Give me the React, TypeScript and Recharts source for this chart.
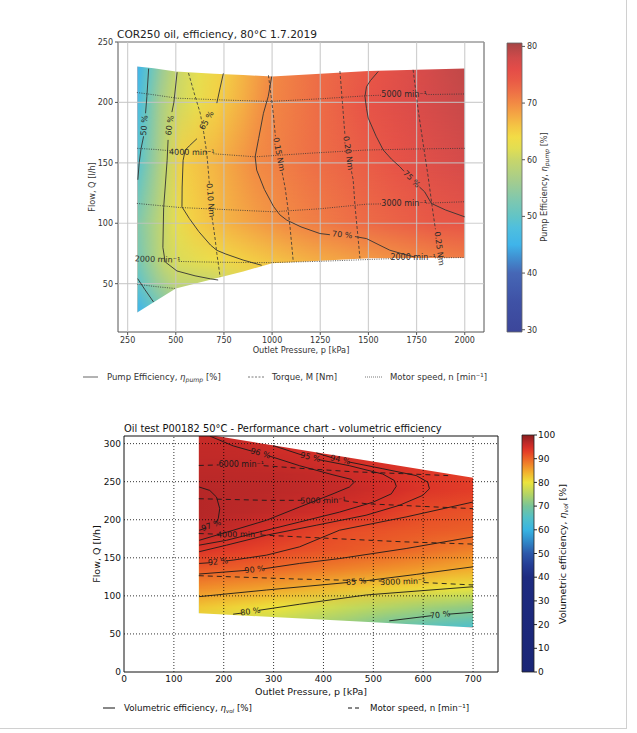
import React from 'react';
import { ComposedChart, Area, Line, Scatter, XAxis, YAxis, ReferenceLine, ReferenceArea } from 'recharts';

const FONT = '"DejaVu Sans", Verdana, sans-serif';

// ---------------- TOP CHART DATA ----------------
const topXTicks = [250, 500, 750, 1000, 1250, 1500, 1750, 2000];
const topYTicks = [50, 100, 150, 200, 250];
const topCbTicks = [30, 40, 50, 60, 70, 80];
const topCbRange = [29.6, 80.6];

const topRegionX = [300, 385, 500, 700, 850, 1000, 1500, 2000];
const topRegionLow = [26.2, 34.7, 46, 54, 60, 67, 71, 71.5];
const topRegionHigh = [229.8, 228.3, 225.6, 223.8, 222.6, 221.5, 226, 228];

// efficiency field rows (flow level, pressures, efficiency values)
const topFieldY = [30, 50, 70, 100, 150, 200, 230];
const topFieldP = [
  [300, 385, 500, 2000],
  [300, 400, 500, 680, 1000, 2000],
  [300, 440, 520, 700, 850, 1200, 1741, 2000],
  [300, 440, 500, 592, 800, 1076, 1400, 1827, 2000],
  [300, 315, 400, 458, 532, 700, 914, 1200, 1640, 2000],
  [300, 340, 420, 488, 600, 713, 850, 970, 1250, 1486, 1750, 2000],
  [300, 360, 430, 510, 620, 755, 870, 1000, 1250, 1560, 1800, 2000],
];
const topFieldEff = [
  [45.5, 50, 56, 70],
  [49.5, 55, 59, 59.5, 64, 70],
  [52, 60, 61.5, 63.5, 65, 67.5, 70, 71],
  [53, 60, 62.5, 65, 67.5, 70, 72, 74.3, 74.7],
  [49, 50, 56, 60, 65, 67, 70, 72, 75, 77.5],
  [47, 50, 56.5, 60, 62.5, 65, 67.5, 70, 72.5, 75, 77, 78.5],
  [45, 50, 55.5, 60, 62.5, 65, 67.5, 70, 72.5, 75, 77.5, 79],
];

const topCmapV = [29.6, 35, 40, 43, 45, 48, 50, 53, 56, 60, 62, 64, 66, 68, 70, 72, 74, 76, 78, 80, 80.6];
const topCmapC = ['#3c469a', '#3f52a6', '#4667b6', '#4094d4', '#3fb4ea', '#4fbfde', '#62c4c6', '#80c8ae', '#a2cc90', '#c8d66a', '#e2de52', '#f2dc46', '#f4c444', '#f4a644', '#f28a44', '#ee7046', '#e95a46', '#e44c48', '#d04a4a', '#b04646', '#a04444'];

type Pair = [number, number] | null;

const topEff50a: Pair[] = [[359, 228], [350, 205], [343, 191], null, [333, 172], [320, 162], [310, 150], [303, 136]];
const topEff50b: Pair[] = [[301.8, 54.2], [340, 45], [384.7, 34.8]];
const topEff60: Pair[] = [[507, 225], [490, 200], [480, 192], null, [460, 169], [455, 152], [445, 130], [437, 113], [433, 80], [445, 68], [506, 60.5], [600, 56.5], [680, 54], [720, 53]];
const topEff65: Pair[] = [[747, 224], [730, 212], [713, 199.4], null, [610, 170], [570, 164], [549, 160.6], [538, 152], [533, 130], [532, 113.6], [570, 104], [620, 93], [680, 82], [713, 77.6], [760, 74.5], [850, 69.5], [946, 65.2]];
const topEff70: Pair[] = [[998, 221.5], [980, 205], [955, 191], [930, 170], [912, 155], [920, 144], [960, 128], [1007, 114], [1040, 107], [1076, 102.6], [1150, 97], [1248, 91.5], [1300, 90.5], null, [1430, 89], [1490, 87.3], [1550, 82.5], [1611, 77.7], [1680, 74.5], [1741, 72]];
const topEff75: Pair[] = [[1551, 225.6], [1510, 218], [1490, 213], [1482, 205], [1490, 195], [1499, 187], [1540, 172], [1577, 160.6], [1620, 153], [1663, 146.8], [1685, 143], null, [1765, 130], [1792, 126], [1827, 116.4], [1900, 111], [2000, 105.3]];

const topTq10: Pair[] = [[566, 224.3], [595, 208], [627, 191], [645, 175], [661, 158], [670, 141.3], [674, 133], null, [688, 105], [695.7, 97], [705, 86], [713, 75], [722, 65], [730, 55.5]];
const topTq15: Pair[] = [[981, 222.5], [995, 205], [1006.6, 190], [1017, 172], null, [1052, 142], [1067, 130], [1080, 115], [1093, 97], [1100, 85], [1110, 68]];
const topTq20: Pair[] = [[1352, 226], [1365, 200], [1378, 173], null, [1412, 143], [1421, 135.8], [1430, 115], [1445, 90], [1456, 71]];
const topTq25: Pair[] = [[1732, 227], [1758, 194], [1785, 165], [1810, 138.5], [1836, 108], [1848, 95]];

const topSp5000: Pair[] = [[298, 208.2], [400, 206], [505.7, 203.5], [750, 202], [989, 200.8], [1250, 203], [1490, 205.5], [1570, 206], null, [1800, 206.5], [2000, 207]];
const topSp4000: Pair[] = [[300, 162], [400, 161], [470, 160], null, [695, 157.5], [912, 155], [1200, 158], [1490, 160.6], [1750, 161.5], [2000, 162]];
const topSp3000: Pair[] = [[298, 116.4], [523, 113], [1006.6, 109.5], [1250, 112], [1490, 115.8], [1570, 116], null, [1800, 116.6], [2000, 117.8]];
const topSp2000: Pair[] = [[515, 68.4], [627, 68], [800, 67.6], [989, 67.4], [1250, 68.5], [1500, 70], [1620, 70.7], null, [1845, 71.4], [2000, 71.6]];
const topSp1000: Pair[] = [[300, 49.5], [400, 47.5], [497, 46]];

const topEffLabels = [
  { x: 337, y: 181, t: '50 %', a: -85 },
  { x: 469, y: 181, t: '60 %', a: -82 },
  { x: 661, y: 185, t: '65 %', a: -60 },
  { x: 1364, y: 90.5, t: '70 %', a: 6 },
  { x: 1724, y: 136.5, t: '75 %', a: 45 },
];
const topTqLabels = [
  { x: 680, y: 119, t: '0.10 Nm', a: 85 },
  { x: 1035, y: 157, t: '0.15 Nm', a: 79 },
  { x: 1395, y: 158, t: '0.20 Nm', a: 82 },
  { x: 1868, y: 79, t: '0.25 Nm', a: 82 },
];
const topSpLabels = [
  { x: 1685, y: 206.3, t: '5000 min⁻¹', a: 0 },
  { x: 583, y: 158.6, t: '4000 min⁻¹', a: 1 },
  { x: 1685, y: 116, t: '3000 min⁻¹', a: 0 },
  { x: 405, y: 70, t: '2000 min⁻¹', a: 2 },
  { x: 1732, y: 71.3, t: '2000 min⁻¹', a: 0 },
];

// ---------------- BOTTOM CHART DATA ----------------
const botXTicks = [0, 100, 200, 300, 400, 500, 600, 700];
const botYTicks = [0, 50, 100, 150, 200, 250, 300];
const botCbTicks = [0, 10, 20, 30, 40, 50, 60, 70, 80, 90, 100];
const botCbRange = [0, 100];

const botRegionX = [150, 200, 700];
const botRegionLow = [77.2, 75.5, 58.4];
const botRegionHigh = [313.5, 308.3, 255];

const botFieldY = [60, 85, 110, 135, 160, 185, 210, 240, 260, 290, 310];
const botFieldP = [
  [150, 300, 450, 532, 632, 700],
  [150, 310, 450, 600, 700],
  [150, 322, 462, 600, 660, 700],
  [150, 265, 400, 586, 665, 700],
  [150, 163, 240, 325, 440, 545, 620, 700],
  [150, 219, 272, 324, 428, 566, 700],
  [150, 190, 250, 325, 432, 506, 600, 700],
  [150, 185, 300, 452, 546, 612, 700],
  [150, 300, 419, 452, 519, 586, 700],
  [150, 219, 272, 300, 372, 432, 500, 700],
  [150, 200, 250, 400, 700],
];
const botFieldEff = [
  [79, 75.5, 72, 69, 66, 65],
  [82.5, 80, 76.5, 73.6, 72],
  [86.9, 85, 82.7, 81, 80, 79.5],
  [90.9, 90, 88.3, 86, 85, 84.5],
  [94.2, 94, 93, 92, 91, 90, 89, 87.8],
  [96.9, 96, 95, 94, 92, 91, 90.3],
  [97.2, 97, 96.7, 96, 95, 94, 92, 91.4],
  [97.2, 97, 96.8, 96, 95, 94, 93.2],
  [96.8, 96.6, 96, 95.6, 95, 94, 93],
  [96.3, 96.2, 96, 95.5, 95, 94.3, 94, 93],
  [95.8, 96, 95.5, 95, 93],
];

const botCmapV = [0, 40, 45, 50, 55, 60, 65, 70, 75, 80, 84, 87, 90, 93, 95, 97, 100];
const botCmapC = ['#1b2676', '#1e2b80', '#243c94', '#2c58aa', '#3088c8', '#38b4e2', '#52c0c8', '#78c498', '#b4d464', '#ece43c', '#f2b42e', '#f08c2a', '#ec6428', '#e43e28', '#d42e28', '#b82828', '#8a1e1e'];

const botEff96: Pair[] = [[172, 310], [219, 297], [257, 290], null, [290, 284], [352, 271], [419, 259], [456, 253], [462, 249.5], [452, 243], [419, 234], [352, 216.7], [285.6, 199.3], [219, 186.2], [150.8, 173]];
const botEff95: Pair[] = [[299, 297.4], [357, 285], null, [390, 279], [452, 271], [519, 260], [542, 251.6], [546, 244], [536, 234], [499, 223], [432, 210], [352, 197], [272, 184], [205.5, 173], [150.8, 166.6]];
const botEff94: Pair[] = [[385.6, 287.8], [417, 281.5], null, [450, 276], [519, 267], [586, 258], [609, 249.5], [612.5, 240.7], [599, 232], [552.4, 219], [485.7, 206], [385.6, 192.8], [285.6, 179.7], [205.5, 166.6], [150.8, 158]];
const botEff97: Pair[] = [[150.8, 243], [172, 238.5], [185.5, 229.8], [192, 214.6], [189, 201.5], [184, 196], null, [165, 189], [150.8, 186.2]];
const botEff92: Pair[] = [[150.8, 142.6], [172, 143.5], null, [205, 146], [219, 147], [285.6, 153.5], [352, 164.4], [432, 186.2], [565.8, 203.7], [700, 223.3]];
const botEff90: Pair[] = [[150.8, 128.7], [245, 133.5], null, [279, 135.5], [352, 142.6], [432, 149], [565.8, 162.2], [700, 177.5]];
const botEff85: Pair[] = [[150.8, 99], [285.6, 107.7], [449, 117.6], null, [482, 119.6], [586, 128.2], [700, 138.2]];
const botEff80: Pair[] = [[218.8, 75.9], [237, 77.5], null, [270, 81], [352, 89], [485.7, 101.2], [700, 112]];
const botEff70: Pair[] = [[532, 67.2], [617, 74], null, [651, 76], [700, 78.5]];

const botSp6000: Pair[] = [[150, 271.3], [190, 272], null, [280, 271], [366, 267], [460, 263], [560, 260.5], [650, 258]];
const botSp5000: Pair[] = [[150, 227.6], [286, 225.5], [357, 225.5], null, [441, 225], [486, 221], [600, 217.5], [700, 214.6]];
const botSp4000: Pair[] = [[150, 181.9], [190, 181], null, [274, 180], [419, 175.3], [560, 171], [700, 168]];
const botSp3000: Pair[] = [[150, 126.5], [352, 122], [517, 119.5], null, [601, 117.5], [700, 114.3]];

const botEffLabels = [
  { x: 273.5, y: 287.2, t: '96 %', a: 16 },
  { x: 373.6, y: 282, t: '95 %', a: 14 },
  { x: 433.7, y: 278.7, t: '94 %', a: 13 },
  { x: 175, y: 192.5, t: '97 %', a: -20 },
  { x: 188.5, y: 144.8, t: '92 %', a: -6 },
  { x: 262, y: 134.5, t: '90 %', a: -7 },
  { x: 465.5, y: 118.6, t: '85 %', a: -5 },
  { x: 253.5, y: 79.3, t: '80 %', a: -8 },
  { x: 634, y: 75, t: '70 %', a: -6 },
];
const botSpLabels = [
  { x: 235, y: 272, t: '6000 min⁻¹', a: 0 },
  { x: 399, y: 225, t: '5000 min⁻¹', a: -1 },
  { x: 232, y: 180.5, t: '4000 min⁻¹', a: -1 },
  { x: 559, y: 118.5, t: '3000 min⁻¹', a: -2 },
];

// ---------------- helpers ----------------
const toPts = (arr: Pair[]) => {
  const out: { x: number; y: number | null }[] = [];
  let lastX = 0;
  for (const p of arr) {
    if (p) { out.push({ x: p[0], y: p[1] }); lastX = p[0]; }
    else out.push({ x: lastX, y: null });
  }
  return out;
};
const regionData = (xs: number[], lo: number[], hi: number[]) => xs.map((x, i) => ({ x, r: [lo[i], hi[i]] }));

const hex = (h: string) => [parseInt(h.slice(1, 3), 16), parseInt(h.slice(3, 5), 16), parseInt(h.slice(5, 7), 16)];
function cmap(vals: number[], cols: string[], v: number) {
  if (v <= vals[0]) return cols[0];
  if (v >= vals[vals.length - 1]) return cols[cols.length - 1];
  let i = 0;
  while (v > vals[i + 1]) i++;
  const t = (v - vals[i]) / (vals[i + 1] - vals[i]);
  const a = hex(cols[i]); const b = hex(cols[i + 1]);
  const c = a.map((ai, k) => Math.round(ai + (b[k] - ai) * t));
  return `rgb(${c[0]},${c[1]},${c[2]})`;
}
const clamp01 = (v: number) => Math.max(0, Math.min(1, v));

function FieldDefs(props: { id: string; xs: number[]; lo: number[]; hi: number[]; rowY: number[]; rowP: number[][]; rowE: number[][]; cv: number[]; cc: string[] }) {
  const { id, xs, lo, hi, rowY, rowP, rowE, cv, cc } = props;
  const x0 = Math.min(...xs), x1 = Math.max(...xs);
  const y0 = Math.min(...lo), y1 = Math.max(...hi);
  const ox = (x: number) => clamp01((x - x0) / (x1 - x0));
  const oy = (y: number) => clamp01((y1 - y) / (y1 - y0));
  return (
    <>
      {rowY.map((_, i) => (
        <linearGradient key={'g' + i} id={`${id}-g${i}`} x1="0" y1="0" x2="1" y2="0">
          {rowP[i].map((p, j) => <stop key={j} offset={ox(p)} stopColor={cmap(cv, cc, rowE[i][j])} />)}
        </linearGradient>
      ))}
      {rowY.map((y, i) => i === 0 ? null : (
        <linearGradient key={'m' + i} id={`${id}-m${i}`} x1="0" y1="0" x2="0" y2="1">
          <stop offset={0} stopColor="#fff" stopOpacity={1} />
          <stop offset={oy(y)} stopColor="#fff" stopOpacity={1} />
          <stop offset={oy(rowY[i - 1])} stopColor="#fff" stopOpacity={0} />
          <stop offset={1} stopColor="#fff" stopOpacity={0} />
        </linearGradient>
      ))}
      {rowY.map((_, i) => i === 0 ? null : (
        <mask key={'k' + i} id={`${id}-k${i}`} maskUnits="objectBoundingBox" maskContentUnits="objectBoundingBox" x="0" y="0" width="1" height="1" style={{ maskType: 'alpha' } as any}>
          <rect x="0" y="0" width="1" height="1" fill={`url(#${id}-m${i})`} />
        </mask>
      ))}
      <pattern id={id} patternUnits="objectBoundingBox" patternContentUnits="objectBoundingBox" x="0" y="0" width="1" height="1">
        {rowY.map((_, i) => (
          <rect key={i} x="0" y="0" width="1" height="1" fill={`url(#${id}-g${i})`} mask={i ? `url(#${id}-k${i})` : undefined} />
        ))}
      </pattern>
    </>
  );
}

function CbGradient({ id, vals, cols, range }: { id: string; vals: number[]; cols: string[]; range: number[] }) {
  const [lo, hi] = range;
  const stops = vals.map((v, i) => ({ o: clamp01((hi - v) / (hi - lo)), c: cols[i] })).reverse();
  return (
    <linearGradient id={id} x1="0" y1="0" x2="0" y2="1">
      {stops.map((s, i) => <stop key={i} offset={s.o} stopColor={s.c} />)}
    </linearGradient>
  );
}

const makeLabelShape = (size: number, color: string) => (props: any) => {
  const { cx, cy, payload } = props;
  if (cx == null || cy == null) return <g />;
  return (
    <text x={cx} y={cy} transform={`rotate(${payload.a} ${cx} ${cy})`} textAnchor="middle" dominantBaseline="central" fontSize={size} fill={color} fontFamily={FONT}>
      {payload.t}
    </text>
  );
};

const topLabelShape = makeLabelShape(8, '#2a2a2a');
const botLabelShape = makeLabelShape(8, '#1a1a1a');

const topEffLines = [topEff50a, topEff50b, topEff60, topEff65, topEff70, topEff75];
const topTqLines = [topTq10, topTq15, topTq20, topTq25];
const topSpLines = [topSp5000, topSp4000, topSp3000, topSp2000, topSp1000];
const botEffLines = [botEff96, botEff95, botEff94, botEff97, botEff92, botEff90, botEff85, botEff80, botEff70];
const botSpLines = [botSp6000, botSp5000, botSp4000, botSp3000];

const topArea = regionData(topRegionX, topRegionLow, topRegionHigh);
const botArea = regionData(botRegionX, botRegionLow, botRegionHigh);

export default function App() {
  const tickTop = { fontSize: 8, fill: '#333', fontFamily: FONT };
  const tickBot = { fontSize: 9, fill: '#111', fontFamily: FONT };
  return (
    <div style={{ position: 'absolute', left: 0, top: 0, width: 637, height: 733, background: '#fff', fontFamily: FONT, overflow: 'hidden' }}>
      <svg width={0} height={0} style={{ position: 'absolute' }}>
        <defs>
          <FieldDefs id="topField" xs={topRegionX} lo={topRegionLow} hi={topRegionHigh} rowY={topFieldY} rowP={topFieldP} rowE={topFieldEff} cv={topCmapV} cc={topCmapC} />
          <FieldDefs id="botField" xs={botRegionX} lo={botRegionLow} hi={botRegionHigh} rowY={botFieldY} rowP={botFieldP} rowE={botFieldEff} cv={botCmapV} cc={botCmapC} />
          <CbGradient id="topCb" vals={topCmapV} cols={topCmapC} range={topCbRange} />
          <CbGradient id="botCb" vals={botCmapV} cols={botCmapC} range={botCbRange} />
        </defs>
      </svg>

      {/* TOP MAIN CHART */}
      <div style={{ position: 'absolute', left: 0, top: 0 }}>
        <ComposedChart width={637} height={370} margin={{ top: 42, right: 153, bottom: 18, left: 78 }}>
          <XAxis type="number" dataKey="x" domain={[200, 2100]} ticks={topXTicks} interval={0} allowDataOverflow axisLine={false} tickLine={{ stroke: '#555' }} tickSize={3} tickMargin={2} height={20} tick={tickTop} />
          <YAxis type="number" domain={[10, 250]} ticks={topYTicks} interval={0} allowDataOverflow axisLine={false} tickLine={{ stroke: '#555' }} tickSize={3} tickMargin={2} width={40} tick={tickTop} />
          <Area data={topArea} dataKey="r" type="linear" stroke="none" fill="url(#topField)" fillOpacity={1} dot={false} activeDot={false} isAnimationActive={false} />
          {topXTicks.map(v => <ReferenceLine key={'gx' + v} x={v} stroke="#c4c4c4" strokeOpacity={0.8} strokeWidth={1.2} />)}
          {topYTicks.map(v => <ReferenceLine key={'gy' + v} y={v} stroke="#c4c4c4" strokeOpacity={0.8} strokeWidth={1.2} />)}
          {topEffLines.map((l, i) => <Line key={'te' + i} data={toPts(l)} dataKey="y" type="linear" stroke="#333" strokeWidth={0.9} dot={false} activeDot={false} isAnimationActive={false} />)}
          {topTqLines.map((l, i) => <Line key={'tt' + i} data={toPts(l)} dataKey="y" type="linear" stroke="#333" strokeWidth={0.8} strokeDasharray="3 2" dot={false} activeDot={false} isAnimationActive={false} />)}
          {topSpLines.map((l, i) => <Line key={'ts' + i} data={toPts(l)} dataKey="y" type="linear" stroke="#333" strokeWidth={0.8} strokeDasharray="1 1.3" dot={false} activeDot={false} isAnimationActive={false} />)}
          <Scatter data={[...topEffLabels, ...topTqLabels, ...topSpLabels]} dataKey="y" shape={topLabelShape} isAnimationActive={false} />
          <ReferenceArea x1={200} x2={2100} y1={10} y2={250} fill="none" stroke="#555" strokeWidth={1} ifOverflow="visible" />
        </ComposedChart>
      </div>

      {/* TOP COLORBAR */}
      <div style={{ position: 'absolute', left: 500, top: 0 }}>
        <ComposedChart width={137} height={370} margin={{ top: 43, right: 85, bottom: 38, left: 7 }}>
          <XAxis type="number" dataKey="x" domain={[0, 1]} hide />
          <YAxis type="number" orientation="right" domain={topCbRange} ticks={topCbTicks} interval={0} allowDataOverflow axisLine={false} tickLine={{ stroke: '#555' }} tickSize={3} tickMargin={2} width={30} tick={tickTop} />
          <Area data={[{ x: 0, r: topCbRange }, { x: 1, r: topCbRange }]} dataKey="r" type="linear" stroke="none" fill="url(#topCb)" fillOpacity={1} dot={false} activeDot={false} isAnimationActive={false} />
          <ReferenceArea x1={0} x2={1} y1={topCbRange[0]} y2={topCbRange[1]} fill="none" stroke="#666" strokeWidth={0.8} ifOverflow="visible" />
        </ComposedChart>
      </div>

      {/* BOTTOM MAIN CHART */}
      <div style={{ position: 'absolute', left: 0, top: 400 }}>
        <ComposedChart width={637} height={300} margin={{ top: 36, right: 139, bottom: 8, left: 84 }}>
          <XAxis type="number" dataKey="x" domain={[0, 750]} ticks={botXTicks} interval={0} allowDataOverflow axisLine={false} tickLine={false} tickSize={3} tickMargin={1} height={20} tick={tickBot} />
          <YAxis type="number" domain={[0, 310]} ticks={botYTicks} interval={0} allowDataOverflow axisLine={false} tickLine={false} tickSize={2} tickMargin={1} width={40} tick={tickBot} />
          <Area data={botArea} dataKey="r" type="linear" stroke="none" fill="url(#botField)" fillOpacity={1} dot={false} activeDot={false} isAnimationActive={false} />
          {botXTicks.filter(v => v > 0).map(v => <ReferenceLine key={'bx' + v} x={v} stroke="#000" strokeWidth={0.8} strokeDasharray="1 2" />)}
          {botYTicks.filter(v => v > 0).map(v => <ReferenceLine key={'by' + v} y={v} stroke="#000" strokeWidth={0.8} strokeDasharray="1 2" />)}
          {botEffLines.map((l, i) => <Line key={'be' + i} data={toPts(l)} dataKey="y" type="linear" stroke="#1a1a1a" strokeWidth={0.9} dot={false} activeDot={false} isAnimationActive={false} />)}
          {botSpLines.map((l, i) => <Line key={'bs' + i} data={toPts(l)} dataKey="y" type="linear" stroke="#1a1a1a" strokeWidth={0.9} strokeDasharray="5 4" dot={false} activeDot={false} isAnimationActive={false} />)}
          <Scatter data={[...botEffLabels, ...botSpLabels]} dataKey="y" shape={botLabelShape} isAnimationActive={false} />
          <ReferenceArea x1={0} x2={750} y1={0} y2={310} fill="none" stroke="#111" strokeWidth={1} ifOverflow="visible" />
        </ComposedChart>
      </div>

      {/* BOTTOM COLORBAR */}
      <div style={{ position: 'absolute', left: 500, top: 400 }}>
        <ComposedChart width={137} height={300} margin={{ top: 35, right: 73, bottom: 28, left: 22 }}>
          <XAxis type="number" dataKey="x" domain={[0, 1]} hide />
          <YAxis type="number" orientation="right" domain={botCbRange} ticks={botCbTicks} interval={0} allowDataOverflow axisLine={false} tickLine={{ stroke: '#222' }} tickSize={3} tickMargin={1} width={30} tick={tickBot} />
          <Area data={[{ x: 0, r: botCbRange }, { x: 1, r: botCbRange }]} dataKey="r" type="linear" stroke="none" fill="url(#botCb)" fillOpacity={1} dot={false} activeDot={false} isAnimationActive={false} />
          <ReferenceArea x1={0} x2={1} y1={botCbRange[0]} y2={botCbRange[1]} fill="none" stroke="#222" strokeWidth={0.8} ifOverflow="visible" />
        </ComposedChart>
      </div>

      {/* TEXT OVERLAY */}
      <svg width={637} height={733} style={{ position: 'absolute', left: 0, top: 0, pointerEvents: 'none' }} fontFamily={FONT}>
        <line x1={626.5} x2={626.5} y1={0} y2={729} stroke="#d0d0d0" strokeWidth={1} />
        <line x1={0} x2={627} y1={728.5} y2={728.5} stroke="#d0d0d0" strokeWidth={1} />

        <text x={117} y={38} fontSize={10.6} fill="#222">COR250 oil, efficiency, 80°C 1.7.2019</text>
        <text x={301} y={353} fontSize={8.2} fill="#333" textAnchor="middle">Outlet Pressure, p [kPa]</text>
        <text x={95} y={187} fontSize={8.2} fill="#333" textAnchor="middle" transform="rotate(-90 95 187)">Flow, Q [l/h]</text>
        <text x={547} y={187} fontSize={8.2} fill="#333" textAnchor="middle" transform="rotate(-90 547 187)">
          Pump Efficiency, <tspan fontStyle="italic">η</tspan><tspan fontStyle="italic" fontSize={6} dy={1.5}>pump</tspan><tspan dy={-1.5}> [%]</tspan>
        </text>

        {/* top legend */}
        <line x1={83} x2={98} y1={377} y2={377} stroke="#555" strokeWidth={0.9} />
        <text x={107} y={380} fontSize={8.5} fill="#333">
          Pump Efficiency, <tspan fontStyle="italic">η</tspan><tspan fontStyle="italic" fontSize={6.2} dy={1.8}>pump</tspan><tspan dy={-1.8}> [%]</tspan>
        </text>
        <line x1={248} x2={265} y1={377} y2={377} stroke="#555" strokeWidth={0.8} strokeDasharray="2 1.5" />
        <text x={272} y={380} fontSize={8.5} fill="#333">Torque, M [Nm]</text>
        <line x1={365} x2={382} y1={377} y2={377} stroke="#555" strokeWidth={0.8} strokeDasharray="1 1" />
        <text x={390} y={380} fontSize={8.5} fill="#333">Motor speed, n [min⁻¹]</text>

        <text x={124} y={432} fontSize={9.9} fill="#111">Oil test P00182 50°C - Performance chart - volumetric efficiency</text>
        <text x={311} y={695} fontSize={9.5} fill="#111" textAnchor="middle">Outlet Pressure, p [kPa]</text>
        <text x={100} y={554} fontSize={9.5} fill="#111" textAnchor="middle" transform="rotate(-90 100 554)">Flow, Q [l/h]</text>
        <text x={566} y={554} fontSize={9.5} fill="#111" textAnchor="middle" transform="rotate(-90 566 554)">
          Volumetric efficiency, <tspan fontStyle="italic">η</tspan><tspan fontStyle="italic" fontSize={6} dy={1.5}>vol</tspan><tspan dy={-1.5}> [%]</tspan>
        </text>

        {/* bottom legend */}
        <line x1={103} x2={115} y1={708} y2={708} stroke="#111" strokeWidth={1} />
        <text x={124} y={711} fontSize={8.7} fill="#111">
          Volumetric efficiency, <tspan fontStyle="italic">η</tspan><tspan fontStyle="italic" fontSize={5.5} dy={1.5}>vol</tspan><tspan dy={-1.5}> [%]</tspan>
        </text>
        <line x1={348} x2={362} y1={708} y2={708} stroke="#111" strokeWidth={1} strokeDasharray="4 3" />
        <text x={370} y={711} fontSize={8.7} fill="#111">Motor speed, n [min⁻¹]</text>
      </svg>
    </div>
  );
}
